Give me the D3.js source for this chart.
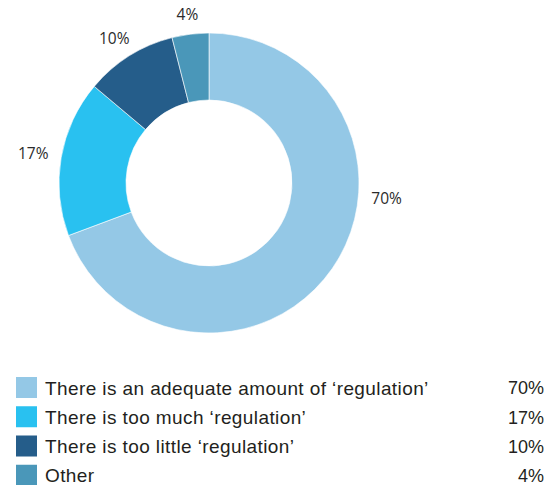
<!DOCTYPE html>
<html>
<head>
<meta charset="utf-8">
<script src="https://cdn.jsdelivr.net/npm/d3@7"></script>
<style>
  html, body { margin: 0; padding: 0; background: #fff; }
  svg { display: block; }
</style>
</head>
<body>
<svg id="chart" width="548" height="485"></svg>
<script>
const categories = [
  "There is an adequate amount of \u2018regulation\u2019",
  "There is too much \u2018regulation\u2019",
  "There is too little \u2018regulation\u2019",
  "Other"
];
const values = [70, 17, 10, 4];
const colors = ["#94c8e6", "#29c1f0", "#255d8a", "#4a97b9"];

const svg = d3.select("#chart");
const cx = 209, cy = 183, outerR = 150, innerR = 83;

const pie = d3.pie().sort(null).value(d => d)(values);
const arc = d3.arc().innerRadius(innerR).outerRadius(outerR);

const g = svg.append("g").attr("transform", `translate(${cx},${cy})`);
g.selectAll("path.slice")
  .data(pie)
  .join("path")
  .attr("class", "slice")
  .attr("d", arc)
  .attr("fill", (d, i) => colors[i])
  .attr("stroke", "#fff")
  .attr("stroke-width", 0.6);

// outside labels: nearest edge of label box sits at a fixed gap outside the ring
const anchorR = 163;
g.selectAll("text.lbl")
  .data(pie)
  .join("text")
  .attr("class", "lbl")
  .attr("text-anchor", "middle")
  .attr("dy", "0.35em")
  .attr("font-family", "'Open Sans', sans-serif")
  .attr("font-size", 15.5)
  .attr("fill", "#2b2b2b")
  .text(d => d.data + "%")
  .each(function(d) {
    let a = (d.startAngle + d.endAngle) / 2;
    if (d.endAngle - d.startAngle > Math.PI) a = Math.PI * 0.53; // big slice: label on right side
    const bb = this.getBBox();
    const w = bb.width, h = 14;
    const s = Math.sin(a), c = -Math.cos(a);
    d3.select(this)
      .attr("x", s * anchorR + s * w / 2)
      .attr("y", c * anchorR + c * h / 2);
  });

// legend
const y = d3.scaleBand().domain(d3.range(categories.length)).range([373, 490]).paddingInner(0);
const legend = svg.append("g");
const rows = legend.selectAll("g.row")
  .data(categories)
  .join("g")
  .attr("class", "row")
  .attr("transform", (d, i) => `translate(0,${y(i)})`);

rows.append("rect")
  .attr("x", 16).attr("y", 4)
  .attr("width", 21).attr("height", 21)
  .attr("fill", (d, i) => colors[i]);

rows.append("text")
  .attr("x", 45).attr("y", 15)
  .attr("dy", "0.35em")
  .attr("font-family", "'Liberation Sans', Arial, sans-serif")
  .attr("font-size", 19)
  .attr("letter-spacing", 0.4)
  .attr("fill", "#231f20")
  .text(d => d);

rows.append("text")
  .attr("x", 544).attr("y", 15)
  .attr("dy", "0.35em")
  .attr("text-anchor", "end")
  .attr("font-family", "'Liberation Sans', Arial, sans-serif")
  .attr("font-size", 18)
  .attr("fill", "#231f20")
  .text((d, i) => values[i] + "%");
</script>
</body>
</html>
